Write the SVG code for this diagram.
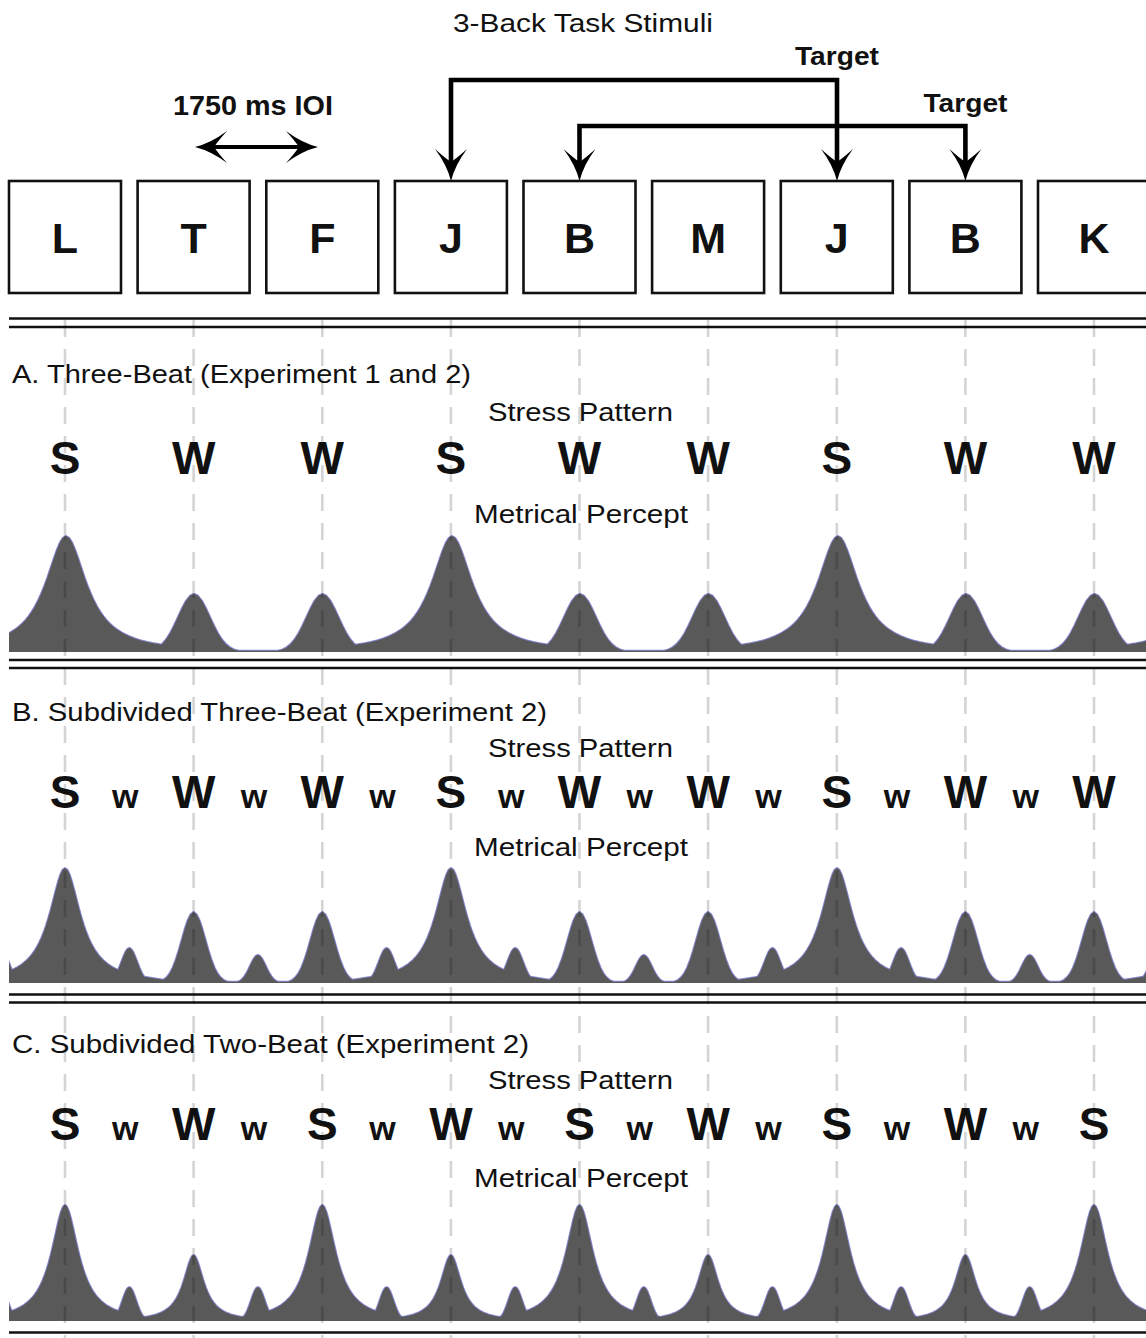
<svg xmlns="http://www.w3.org/2000/svg" xmlns:xlink="http://www.w3.org/1999/xlink" width="1146" height="1338" viewBox="0 0 1146 1338">
  <style>
    .lbl{font-family:"Liberation Sans",Arial,sans-serif;fill:#111}
    .hd{font-size:26px}
    .bold{font-weight:bold}
    .box rect{fill:#fff;stroke:#111;stroke-width:2.6}
    .box text{font-family:"Liberation Sans",Arial,sans-serif;font-weight:bold;font-size:43px;text-anchor:middle;fill:#111}
    .stress text{font-family:"Liberation Sans",Arial,sans-serif;font-weight:bold;text-anchor:middle;fill:#111}
    .big{font-size:46px}
    .sub{font-size:34px}
    .rule{stroke:#111;stroke-width:2.6}
    .beat{stroke:#000;stroke-opacity:0.17;stroke-width:2.6;stroke-dasharray:17 12}
    .rim{fill:none;stroke:#8787d2;stroke-width:2;stroke-linejoin:round}
    .mass{fill:#595959;stroke:none}
    .link{fill:none;stroke:#000;stroke-width:4.6}
  </style>
  <defs>
    <marker id="dart" markerUnits="userSpaceOnUse" viewBox="-14 -17 34 34" markerWidth="34" markerHeight="34" refX="0" refY="0" orient="auto-start-reverse">
      <path d="M19,0 Q3,-4 -13,-16 Q-4,-6 0,0 Q-4,6 -13,16 Q3,4 19,0 Z" fill="#000"/>
    </marker>
    <!-- unit peak profiles: Lorentzian-like (broad tails) and Gaussian -->
    <polygon id="lor" vector-effect="non-scaling-stroke" points="-7,0 -6.5,-.005 -6,-.012 -5.5,-.022 -5,-.033 -4.5,-.045 -4,-.0588 -3.75,-.0664 -3.5,-.0755 -3.25,-.0865 -3,-.1 -2.75,-.1168 -2.5,-.1379 -2.25,-.1649 -2,-.2 -1.875,-.2215 -1.75,-.2462 -1.625,-.2747 -1.5,-.3077 -1.375,-.3459 -1.25,-.3902 -1.125,-.4414 -1,-.5 -.875,-.5664 -.75,-.64 -.625,-.7191 -.5,-.8 -.375,-.8767 -.25,-.9412 -.125,-.9846 0,-1 .125,-.9846 .25,-.9412 .375,-.8767 .5,-.8 .625,-.7191 .75,-.64 .875,-.5664 1,-.5 1.125,-.4414 1.25,-.3902 1.375,-.3459 1.5,-.3077 1.625,-.2747 1.75,-.2462 1.875,-.2215 2,-.2 2.25,-.1649 2.5,-.1379 2.75,-.1168 3,-.1 3.25,-.0865 3.5,-.0755 3.75,-.0664 4,-.0588 4.5,-.045 5,-.033 5.5,-.022 6,-.012 6.5,-.005 7,0 7,.1 -7,.1"/>
    <polygon id="gau" vector-effect="non-scaling-stroke" points="-4,0 -3.5,-.0022 -3,-.0111 -2.75,-.0228 -2.5,-.0439 -2.25,-.0796 -2,-.1353 -1.75,-.2163 -1.5,-.3247 -1.25,-.4578 -1,-.6065 -.75,-.7548 -.5,-.8825 -.25,-.9692 0,-1 .25,-.9692 .5,-.8825 .75,-.7548 1,-.6065 1.25,-.4578 1.5,-.3247 1.75,-.2163 2,-.1353 2.25,-.0796 2.5,-.0439 2.75,-.0228 3,-.0111 3.5,-.0022 4,0 4,.1 -4,.1"/>

    <!-- A: three-beat percept -->
    <g id="peaksA">
      <rect x="0" y="650.8" width="1146" height="10"/>
      <use xlink:href="#lor" transform="translate(66,652) scale(25,116)"/>
      <use xlink:href="#lor" transform="translate(452,652) scale(25,116)"/>
      <use xlink:href="#lor" transform="translate(838,652) scale(25,116)"/>
      <use xlink:href="#lor" transform="translate(1223.6,652) scale(25,116)"/>
      <use xlink:href="#gau" transform="translate(194,652) scale(16,58)"/>
      <use xlink:href="#gau" transform="translate(322.5,652) scale(16,58)"/>
      <use xlink:href="#gau" transform="translate(580,652) scale(16,58)"/>
      <use xlink:href="#gau" transform="translate(708.5,652) scale(16,58)"/>
      <use xlink:href="#gau" transform="translate(966,652) scale(16,58)"/>
      <use xlink:href="#gau" transform="translate(1094.5,652) scale(16,58)"/>
    </g>
    <!-- B: subdivided three-beat percept -->
    <g id="peaksB">
      <rect x="0" y="981.8" width="1146" height="10"/>
      <use xlink:href="#lor" transform="translate(65,983) scale(19,115)"/>
      <use xlink:href="#lor" transform="translate(451,983) scale(19,115)"/>
      <use xlink:href="#lor" transform="translate(837,983) scale(19,115)"/>
      <use xlink:href="#lor" transform="translate(1222.6,983) scale(19,115)"/>
      <use xlink:href="#gau" transform="translate(193.6,983) scale(12,71)"/>
      <use xlink:href="#gau" transform="translate(322.3,983) scale(12,71)"/>
      <use xlink:href="#gau" transform="translate(579.5,983) scale(12,71)"/>
      <use xlink:href="#gau" transform="translate(708.1,983) scale(12,71)"/>
      <use xlink:href="#gau" transform="translate(965.4,983) scale(12,71)"/>
      <use xlink:href="#gau" transform="translate(1094,983) scale(12,71)"/>
      <use xlink:href="#gau" transform="translate(0.7,983) scale(8,35)"/>
      <use xlink:href="#gau" transform="translate(129.3,983) scale(8,35)"/>
      <use xlink:href="#gau" transform="translate(257.9,983) scale(8,28)"/>
      <use xlink:href="#gau" transform="translate(386.6,983) scale(8,35)"/>
      <use xlink:href="#gau" transform="translate(515.2,983) scale(8,35)"/>
      <use xlink:href="#gau" transform="translate(643.8,983) scale(8,28)"/>
      <use xlink:href="#gau" transform="translate(772.4,983) scale(8,35)"/>
      <use xlink:href="#gau" transform="translate(901.1,983) scale(8,35)"/>
      <use xlink:href="#gau" transform="translate(1029.7,983) scale(8,28)"/>
      <use xlink:href="#gau" transform="translate(1158.3,983) scale(8,35)"/>
    </g>
    <!-- C: subdivided two-beat percept -->
    <g id="peaksC">
      <rect x="0" y="1319.8" width="1146" height="10"/>
      <use xlink:href="#lor" transform="translate(65,1321) scale(16.5,116)"/>
      <use xlink:href="#lor" transform="translate(322.3,1321) scale(16.5,116)"/>
      <use xlink:href="#lor" transform="translate(579.5,1321) scale(16.5,116)"/>
      <use xlink:href="#lor" transform="translate(836.8,1321) scale(16.5,116)"/>
      <use xlink:href="#lor" transform="translate(1094,1321) scale(16.5,116)"/>
      <use xlink:href="#lor" transform="translate(193.6,1321) scale(12.5,66)"/>
      <use xlink:href="#lor" transform="translate(450.9,1321) scale(12.5,66)"/>
      <use xlink:href="#lor" transform="translate(708.1,1321) scale(12.5,66)"/>
      <use xlink:href="#lor" transform="translate(965.4,1321) scale(12.5,66)"/>
      <use xlink:href="#gau" transform="translate(0.7,1321) scale(7,34)"/>
      <use xlink:href="#gau" transform="translate(129.3,1321) scale(7,34)"/>
      <use xlink:href="#gau" transform="translate(257.9,1321) scale(7,34)"/>
      <use xlink:href="#gau" transform="translate(386.6,1321) scale(7,34)"/>
      <use xlink:href="#gau" transform="translate(515.2,1321) scale(7,34)"/>
      <use xlink:href="#gau" transform="translate(643.8,1321) scale(7,34)"/>
      <use xlink:href="#gau" transform="translate(772.4,1321) scale(7,34)"/>
      <use xlink:href="#gau" transform="translate(901.1,1321) scale(7,34)"/>
      <use xlink:href="#gau" transform="translate(1029.7,1321) scale(7,34)"/>
      <use xlink:href="#gau" transform="translate(1158.3,1321) scale(7,34)"/>
    </g>
    <clipPath id="clipA"><rect x="9" y="500" width="1137" height="152"/></clipPath>
    <clipPath id="clipB"><rect x="9" y="840" width="1137" height="143"/></clipPath>
    <clipPath id="clipC"><rect x="9" y="1180" width="1137" height="141"/></clipPath>
  </defs>

  <rect width="1146" height="1338" fill="#fff"/>

  <!-- title -->
  <text class="lbl hd" x="583" y="32" text-anchor="middle" textLength="260" lengthAdjust="spacingAndGlyphs">3-Back Task Stimuli</text>

  <!-- horizontal rules -->
  <g id="rules">
    <line class="rule" x1="9" y1="318.5" x2="1146" y2="318.5"/>
    <line class="rule" x1="9" y1="327" x2="1146" y2="327"/>
    <line class="rule" x1="9" y1="660" x2="1146" y2="660"/>
    <line class="rule" x1="9" y1="668" x2="1146" y2="668"/>
    <line class="rule" x1="9" y1="994.5" x2="1146" y2="994.5"/>
    <line class="rule" x1="9" y1="1002.5" x2="1146" y2="1002.5"/>
    <line class="rule" x1="9" y1="1332.5" x2="1146" y2="1332.5"/>
  </g>

  <!-- stimulus letters -->
  <g id="stim-1" class="box"><rect x="9" y="181" width="112" height="112"/><text x="65" y="253">L</text></g>
  <g id="stim-2" class="box"><rect x="137.6" y="181" width="112" height="112"/><text x="193.6" y="253">T</text></g>
  <g id="stim-3" class="box"><rect x="266.3" y="181" width="112" height="112"/><text x="322.3" y="253">F</text></g>
  <g id="stim-4" class="box"><rect x="394.9" y="181" width="112" height="112"/><text x="450.9" y="253">J</text></g>
  <g id="stim-5" class="box"><rect x="523.5" y="181" width="112" height="112"/><text x="579.5" y="253">B</text></g>
  <g id="stim-6" class="box"><rect x="652.1" y="181" width="112" height="112"/><text x="708.1" y="253">M</text></g>
  <g id="stim-7" class="box"><rect x="780.8" y="181" width="112" height="112"/><text x="836.8" y="253">J</text></g>
  <g id="stim-8" class="box"><rect x="909.4" y="181" width="112" height="112"/><text x="965.4" y="253">B</text></g>
  <g id="stim-9" class="box"><rect x="1038" y="181" width="112" height="112"/><text x="1094" y="253">K</text></g>

  <!-- connectors -->
  <g id="connectors">
    <path class="link" d="M451,162 V80 H837 V162" marker-start="url(#dart)" marker-end="url(#dart)"/>
    <path class="link" d="M579.5,162 V126 H965.4 V162" marker-start="url(#dart)" marker-end="url(#dart)"/>
    <path class="link" style="stroke-width:4" d="M214,147 H299" marker-start="url(#dart)" marker-end="url(#dart)"/>
  </g>
  <text class="lbl bold" x="837" y="65" font-size="26" text-anchor="middle" textLength="84" lengthAdjust="spacingAndGlyphs">Target</text>
  <text class="lbl bold" x="965.5" y="112" font-size="26" text-anchor="middle" textLength="84" lengthAdjust="spacingAndGlyphs">Target</text>
  <text class="lbl bold" x="253" y="115" font-size="27" text-anchor="middle" textLength="160" lengthAdjust="spacingAndGlyphs">1750 ms IOI</text>

  <!-- A. Three-Beat -->
  <g id="section-a">
    <text class="lbl hd" x="12" y="383" textLength="459" lengthAdjust="spacingAndGlyphs">A. Three-Beat (Experiment 1 and 2)</text>
    <text class="lbl hd" x="580.5" y="421" text-anchor="middle" textLength="185" lengthAdjust="spacingAndGlyphs">Stress Pattern</text>
    <g class="stress">
      <text class="big" x="65" y="474">S</text>
      <text class="big" x="193.6" y="474">W</text>
      <text class="big" x="322.3" y="474">W</text>
      <text class="big" x="450.9" y="474">S</text>
      <text class="big" x="579.5" y="474">W</text>
      <text class="big" x="708.1" y="474">W</text>
      <text class="big" x="836.8" y="474">S</text>
      <text class="big" x="965.4" y="474">W</text>
      <text class="big" x="1094" y="474">W</text>
    </g>
    <text class="lbl hd" x="581" y="523" text-anchor="middle" textLength="214" lengthAdjust="spacingAndGlyphs">Metrical Percept</text>
    <g clip-path="url(#clipA)">
      <use xlink:href="#peaksA" class="rim"/>
      <use xlink:href="#peaksA" class="mass"/>
    </g>
  </g>

  <!-- B. Subdivided Three-Beat -->
  <g id="section-b">
    <text class="lbl hd" x="12" y="721" textLength="535" lengthAdjust="spacingAndGlyphs">B. Subdivided Three-Beat (Experiment 2)</text>
    <text class="lbl hd" x="580.5" y="757" text-anchor="middle" textLength="185" lengthAdjust="spacingAndGlyphs">Stress Pattern</text>
    <g class="stress">
      <text class="big" x="65" y="808">S</text>
      <text class="sub" x="125.3" y="808">w</text>
      <text class="big" x="193.6" y="808">W</text>
      <text class="sub" x="253.9" y="808">w</text>
      <text class="big" x="322.3" y="808">W</text>
      <text class="sub" x="382.6" y="808">w</text>
      <text class="big" x="450.9" y="808">S</text>
      <text class="sub" x="511.2" y="808">w</text>
      <text class="big" x="579.5" y="808">W</text>
      <text class="sub" x="639.8" y="808">w</text>
      <text class="big" x="708.1" y="808">W</text>
      <text class="sub" x="768.4" y="808">w</text>
      <text class="big" x="836.8" y="808">S</text>
      <text class="sub" x="897.1" y="808">w</text>
      <text class="big" x="965.4" y="808">W</text>
      <text class="sub" x="1025.7" y="808">w</text>
      <text class="big" x="1094" y="808">W</text>
    </g>
    <text class="lbl hd" x="581" y="856" text-anchor="middle" textLength="214" lengthAdjust="spacingAndGlyphs">Metrical Percept</text>
    <g clip-path="url(#clipB)">
      <use xlink:href="#peaksB" class="rim"/>
      <use xlink:href="#peaksB" class="mass"/>
    </g>
  </g>

  <!-- C. Subdivided Two-Beat -->
  <g id="section-c">
    <text class="lbl hd" x="12" y="1053" textLength="517" lengthAdjust="spacingAndGlyphs">C. Subdivided Two-Beat (Experiment 2)</text>
    <text class="lbl hd" x="580.5" y="1089" text-anchor="middle" textLength="185" lengthAdjust="spacingAndGlyphs">Stress Pattern</text>
    <g class="stress">
      <text class="big" x="65" y="1140">S</text>
      <text class="sub" x="125.3" y="1140">w</text>
      <text class="big" x="193.6" y="1140">W</text>
      <text class="sub" x="253.9" y="1140">w</text>
      <text class="big" x="322.3" y="1140">S</text>
      <text class="sub" x="382.6" y="1140">w</text>
      <text class="big" x="450.9" y="1140">W</text>
      <text class="sub" x="511.2" y="1140">w</text>
      <text class="big" x="579.5" y="1140">S</text>
      <text class="sub" x="639.8" y="1140">w</text>
      <text class="big" x="708.1" y="1140">W</text>
      <text class="sub" x="768.4" y="1140">w</text>
      <text class="big" x="836.8" y="1140">S</text>
      <text class="sub" x="897.1" y="1140">w</text>
      <text class="big" x="965.4" y="1140">W</text>
      <text class="sub" x="1025.7" y="1140">w</text>
      <text class="big" x="1094" y="1140">S</text>
    </g>
    <text class="lbl hd" x="581" y="1187" text-anchor="middle" textLength="214" lengthAdjust="spacingAndGlyphs">Metrical Percept</text>
    <g clip-path="url(#clipC)">
      <use xlink:href="#peaksC" class="rim"/>
      <use xlink:href="#peaksC" class="mass"/>
    </g>
  </g>

  <!-- beat guides -->
  <g id="beats">
    <line class="beat" x1="65" y1="320" x2="65" y2="1338"/>
    <line class="beat" x1="193.6" y1="320" x2="193.6" y2="1338"/>
    <line class="beat" x1="322.3" y1="320" x2="322.3" y2="1338"/>
    <line class="beat" x1="450.9" y1="320" x2="450.9" y2="1338"/>
    <line class="beat" x1="579.5" y1="320" x2="579.5" y2="1338"/>
    <line class="beat" x1="708.1" y1="320" x2="708.1" y2="1338"/>
    <line class="beat" x1="836.8" y1="320" x2="836.8" y2="1338"/>
    <line class="beat" x1="965.4" y1="320" x2="965.4" y2="1338"/>
    <line class="beat" x1="1094" y1="320" x2="1094" y2="1338"/>
  </g>
</svg>
